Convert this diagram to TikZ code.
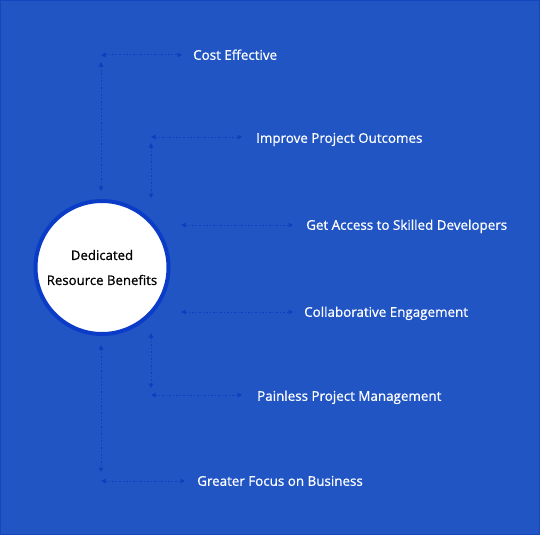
\documentclass[tikz,border=0pt]{standalone}
\usepackage{fontspec}
\setmainfont{Open Sans}
\newfontfamily\benefitfont{Open Sans}[FakeBold=0.8]
\usetikzlibrary{positioning,arrows.meta}

\definecolor{bgblue}{RGB}{33,85,196}
\definecolor{edgeblue}{RGB}{22,70,190}
\definecolor{ringblue}{RGB}{10,60,200}
\definecolor{linkblue}{RGB}{12,62,190}

\tikzset{
   benefit/.style={anchor=west, text=white, font=\benefitfont\fontsize{13.4}{16}\selectfont,
      inner sep=0pt, text height=9.6pt, text depth=0pt},
   link/.style={linkblue, line width=1pt, dash pattern=on 1.6pt off 1.9pt,
      {Triangle[length=4.5pt,width=4.5pt]}-{Triangle[length=4.5pt,width=4.5pt]}},
}

\begin{document}
\begin{tikzpicture}[x=1pt, y=-1pt]
   \fill[bgblue] (0,0) rectangle (540,535);
   \draw[edgeblue, line width=1pt] (0.5,0.5) rectangle (539.5,534.5);
   \useasboundingbox (0,0) rectangle (540,535);

   \node[circle, fill=white, draw=ringblue, line width=4pt, minimum size=133pt, inner sep=0pt,
      align=center, font=\benefitfont\fontsize{13.2}{25}\selectfont] (hub) at (102,267.5) {Dedicated\\Resource Benefits};

   \node[benefit] (cost) at (193,55) {Cost Effective};
   \node[benefit] (outcome) at (256,138) {Improve Project Outcomes};
   \node[benefit] (skill) at (306,225) {Get Access to Skilled Developers};
   \node[benefit] (collab) at (304,312) {Collaborative Engagement};
   \node[benefit] (pain) at (257,396) {Painless Project Management};
   \node[benefit] (focus) at (197,481) {Greater Focus on Business};

   \coordinate (c1v) at (101,62);   \coordinate (c1b) at (101,191);
   \coordinate (c1h) at (101,55);   \coordinate (c1e) at (182,55);
   \coordinate (c2v) at (151,143);  \coordinate (c2b) at (151,198);
   \coordinate (c2h) at (151,137);  \coordinate (c2e) at (242,137);
   \coordinate (c3h) at (181,225);  \coordinate (c3e) at (293,225);
   \coordinate (c4h) at (181,312);  \coordinate (c4e) at (293,312);
   \coordinate (c5v) at (151,333);  \coordinate (c5b) at (151,388);
   \coordinate (c5h) at (151,395);  \coordinate (c5e) at (242,395);
   \coordinate (c6v) at (101,345);  \coordinate (c6b) at (101,472);
   \coordinate (c6h) at (101,481);  \coordinate (c6e) at (185,481);

   \draw[link] (c1v) -- (c1b);
   \draw[link] (c1h) -- (c1e);
   \draw[link] (c2v) -- (c2b);
   \draw[link] (c2h) -- (c2e);
   \draw[link] (c3h) -- (c3e);
   \draw[link] (c4h) -- (c4e);
   \draw[link] (c5v) -- (c5b);
   \draw[link] (c5h) -- (c5e);
   \draw[link] (c6v) -- (c6b);
   \draw[link] (c6h) -- (c6e);
\end{tikzpicture}
\end{document}
